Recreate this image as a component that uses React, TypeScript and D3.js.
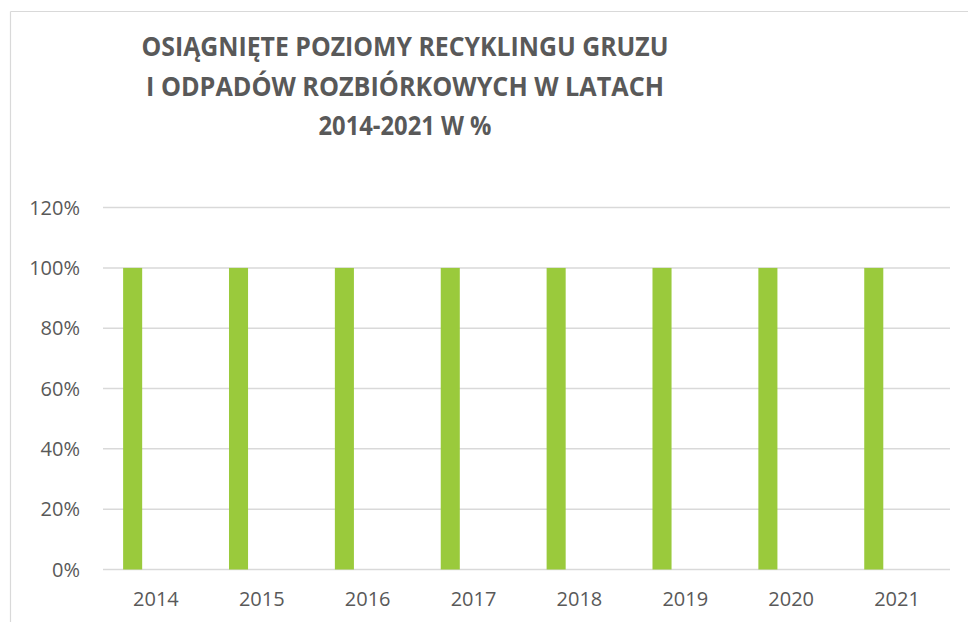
import React from "react";
import * as d3 from "d3";

const years = ["2014", "2015", "2016", "2017", "2018", "2019", "2020", "2021"];
const recyclingLevel = [1, 1, 1, 1, 1, 1, 1, 1];
const yTicks = [0, 0.2, 0.4, 0.6, 0.8, 1.0, 1.2];
const titleLines = [
  "OSIĄGNIĘTE POZIOMY RECYKLINGU GRUZU",
  "I ODPADÓW ROZBIÓRKOWYCH W LATACH",
  "2014-2021 W %",
];
const titleWidths = [527, 518, 173];

const W = 968;
const H = 622;
const plot = { left: 103, right: 950, top: 207.6, bottom: 569.5 };
const textColor = "#595959";
const gridColor = "#d9d9d9";
const barColor = "#9aca3c";

export default function App() {
  const x = d3.scaleBand<string>().domain(years).range([plot.left, plot.right]).paddingInner(0).paddingOuter(0);
  const y = d3.scaleLinear().domain([0, 1.2]).range([plot.bottom, plot.top]);
  const bw = x.bandwidth();
  const barOffset = 0.19 * bw; // offset from band start
  const barW = 0.18 * bw;
  const font = "'Open Sans', 'DejaVu Sans', sans-serif";

  return (
    <svg
      width={W}
      height={H}
      style={{ position: "fixed", top: 0, left: 0, background: "#fff" }}
    >
      <rect x={0} y={0} width={W} height={H} fill="#fff" />
      <line x1={10.5} y1={11.5} x2={W + 5} y2={11.5} stroke={gridColor} strokeWidth={1.2} />
      <line x1={10.5} y1={11.5} x2={10.5} y2={H + 5} stroke={gridColor} strokeWidth={1.2} />

      {titleLines.map((t, i) => (
        <text
          key={i}
          x={405}
          y={56 + i * 39.5}
          textAnchor="middle"
          fontFamily={font}
          fontWeight={700}
          fontSize={27}
          fill={textColor}
          textLength={titleWidths[i]}
          lengthAdjust="spacingAndGlyphs"
        >
          {t}
        </text>
      ))}

      {yTicks.map((t) => (
        <g key={t}>
          <line
            x1={plot.left}
            x2={plot.right}
            y1={y(t)}
            y2={y(t)}
            stroke={gridColor}
            strokeWidth={1.5}
          />
          <text
            x={80}
            y={y(t)}
            dy="0.36em"
            textAnchor="end"
            fontFamily={font}
            fontSize={20}
            fill={textColor}
          >
            {d3.format(".0%")(t)}
          </text>
        </g>
      ))}

      {years.map((yr, i) => (
        <rect
          key={yr}
          x={(x(yr) as number) + barOffset}
          y={y(recyclingLevel[i])}
          width={barW}
          height={y(0) - y(recyclingLevel[i])}
          fill={barColor}
        />
      ))}

      {years.map((yr) => (
        <text
          key={yr}
          x={(x(yr) as number) + bw / 2}
          y={599}
          dy="0.36em"
          textAnchor="middle"
          fontFamily={font}
          fontSize={20}
          fill={textColor}
        >
          {yr}
        </text>
      ))}
    </svg>
  );
}
